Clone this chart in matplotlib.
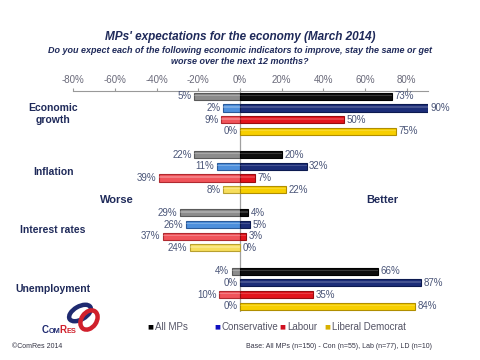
import matplotlib
matplotlib.use("Agg")
import matplotlib.pyplot as plt
from matplotlib.patches import Ellipse

# ---------------- data ----------------
categories = ["Economic\ngrowth", "Inflation", "Interest rates", "Unemployment"]
series = ["All MPs", "Conservative", "Labour", "Liberal Democrat"]
# "Better" share (positive side), per category, per series
better = [
    [73, 90, 50, 75],
    [20, 32, 7, 22],
    [4, 5, 3, 0],
    [66, 87, 35, 84],
]
# "Worse" share as printed in the labels
worse = [
    [5, 2, 9, 0],
    [22, 11, 39, 8],
    [29, 26, 37, 24],
    [4, 0, 10, 0],
]
# "Worse" bar lengths as drawn in the picture (differ from labels in first group)
worse_drawn = [
    [22, 8, 9, 0],
    [22, 11, 39, 8],
    [29, 26, 37, 24],
    [4, 0, 10, 0],
]
xticks = [-80, -60, -40, -20, 0, 20, 40, 60, 80]

pos_colors = ["#0d0d0d", "#1b2d78", "#e3141c", "#f7cf00"]
pos_edges = ["#000000", "#0c1a50", "#9a0c10", "#b08e00"]
neg_colors = ["#8c8c8c", "#4d8fdc", "#f0545a", "#f7de5c"]
neg_edges = ["#5a5a5a", "#2a5a9a", "#b02a30", "#b8a030"]
legend_colors = ["#000000", "#1010c0", "#d01020", "#d8b000"]

navy = "#1f2a5a"
lblc = "#4a5578"

fig = plt.figure(figsize=(4.8, 3.6), dpi=100)
fig.patch.set_facecolor("white")
ax = fig.add_axes([0.1525, 0.1333, 0.7383, 0.6139])

bh = 0.62
for g, cat in enumerate(categories):
    for j in range(len(series)):
        y = g * 5 + j
        b = better[g][j]
        w = worse_drawn[g][j]
        if w > 0:
            ax.barh(y, -w, height=bh, color=neg_colors[j], edgecolor=neg_edges[j], linewidth=0.8, zorder=3)
            ax.barh(y - bh * 0.12, -w, height=bh * 0.22, left=0, color="white", alpha=0.25, linewidth=0, zorder=4)
        if b > 0:
            ax.barh(y, b, height=bh, color=pos_colors[j], edgecolor=pos_edges[j], linewidth=0.8, zorder=3)
            ax.barh(y - bh * 0.12, b, height=bh * 0.22, color="white", alpha=0.18, linewidth=0, zorder=4)
        ax.text(-w - 1.2, y, f"{worse[g][j]}%", ha="right", va="center", fontsize=7,
                color=lblc, family="Liberation Sans", zorder=5)
        ax.text(b + 1.2, y, f"{b}%", ha="left", va="center", fontsize=7,
                color=lblc, family="Liberation Sans", zorder=5)

ax.axvline(0, color="#a0a0a0", linewidth=0.9, zorder=2)
ax.set_xlim(-80, 90)
ax.set_ylim(18.5, -0.45)
ax.set_yticks([])
ax.xaxis.tick_top()
ax.set_xticks(xticks)
ax.set_xticklabels([f"{t}%" for t in xticks], fontsize=7, color="#6a6a7a", family="Liberation Sans")
ax.tick_params(axis="x", direction="out", length=2.5, color="#999999", pad=2)
for s in ["bottom", "left", "right"]:
    ax.spines[s].set_visible(False)
ax.spines["top"].set_color("#999999")
ax.spines["top"].set_linewidth(0.8)
ax.set_facecolor("none")

# category labels
for g, cat in enumerate(categories):
    yc = g * 5 + 1.5
    yfig = ax.transData.transform((0, yc))[1]
    fy = fig.transFigure.inverted().transform((0, yfig))[1]
    fig.text(53 / 480, fy, cat, ha="center", va="center", fontsize=7.5, fontweight="bold",
             color=navy, family="Liberation Sans", linespacing=1.3)

fig.text(117 / 480, 1 - 200 / 360, "Worse", ha="center", va="center", fontsize=8,
         fontweight="bold", color=navy, family="Liberation Sans")
fig.text(382 / 480, 1 - 200 / 360, "Better", ha="center", va="center", fontsize=8,
         fontweight="bold", color=navy, family="Liberation Sans")

# titles
fig.text(240 / 480, 1 - 37 / 360, "MPs' expectations for the economy (March 2014)", ha="center",
         va="center", fontsize=8.5, fontweight="bold", style="italic", color=navy, family="Liberation Sans")
fig.text(240 / 480, 1 - 56 / 360,
         "Do you expect each of the following economic indicators to improve, stay the same or get\nworse over the next 12 months?",
         ha="center", va="center", fontsize=6.5, fontweight="bold", style="italic", color=navy,
         family="Liberation Sans", linespacing=1.25)

# legend
leg_x = [150, 217, 282, 327]
for x, name, c in zip(leg_x, series, legend_colors):
    fig.text(x / 480, 1 - 327 / 360, "\u25a0", ha="center", va="center", fontsize=4.5, color=c,
             family="DejaVu Sans")
    fig.text((x + 5) / 480, 1 - 327 / 360, name, ha="left", va="center", fontsize=7,
             color="#555566", family="Liberation Sans")

# footer
fig.text(12 / 480, 1 - 347 / 360, "\u00a9ComRes 2014", ha="left", va="center", fontsize=5,
         color="#333344", family="Liberation Sans")
fig.text(432 / 480, 1 - 347 / 360, "Base: All MPs (n=150) - Con (n=55), Lab (n=77), LD (n=10)",
         ha="right", va="center", fontsize=5, color="#333344", family="Liberation Sans")

# logo (pixel coordinates, y measured upward)
lax = fig.add_axes([0, 0, 1, 1], zorder=-1)
lax.set_xlim(0, 480)
lax.set_ylim(0, 360)
lax.axis("off")
lax.add_patch(Ellipse((80, 360 - 313), 24, 13, angle=30, fill=False, edgecolor="#1f2a70", linewidth=3.2))
lax.add_patch(Ellipse((89, 360 - 320), 21, 15, angle=55, fill=False, edgecolor="#d0202c", linewidth=3.2))
renderer = fig.canvas.get_renderer()
xcur = 42
for txt, fs, col in [("C", 7.0, "#1f2a70"), ("OM", 5.3, "#1f2a70"), ("R", 7.0, "#d0202c"), ("ES", 5.3, "#d0202c")]:
    t = lax.text(xcur, 360 - 333, txt, fontsize=fs, fontweight="bold", color=col, va="baseline", ha="left",
                 family="Liberation Sans")
    bb = t.get_window_extent(renderer)
    xcur += bb.width * 480 / fig.bbox.width - 0.5

fig.savefig("out.png", dpi=100)
